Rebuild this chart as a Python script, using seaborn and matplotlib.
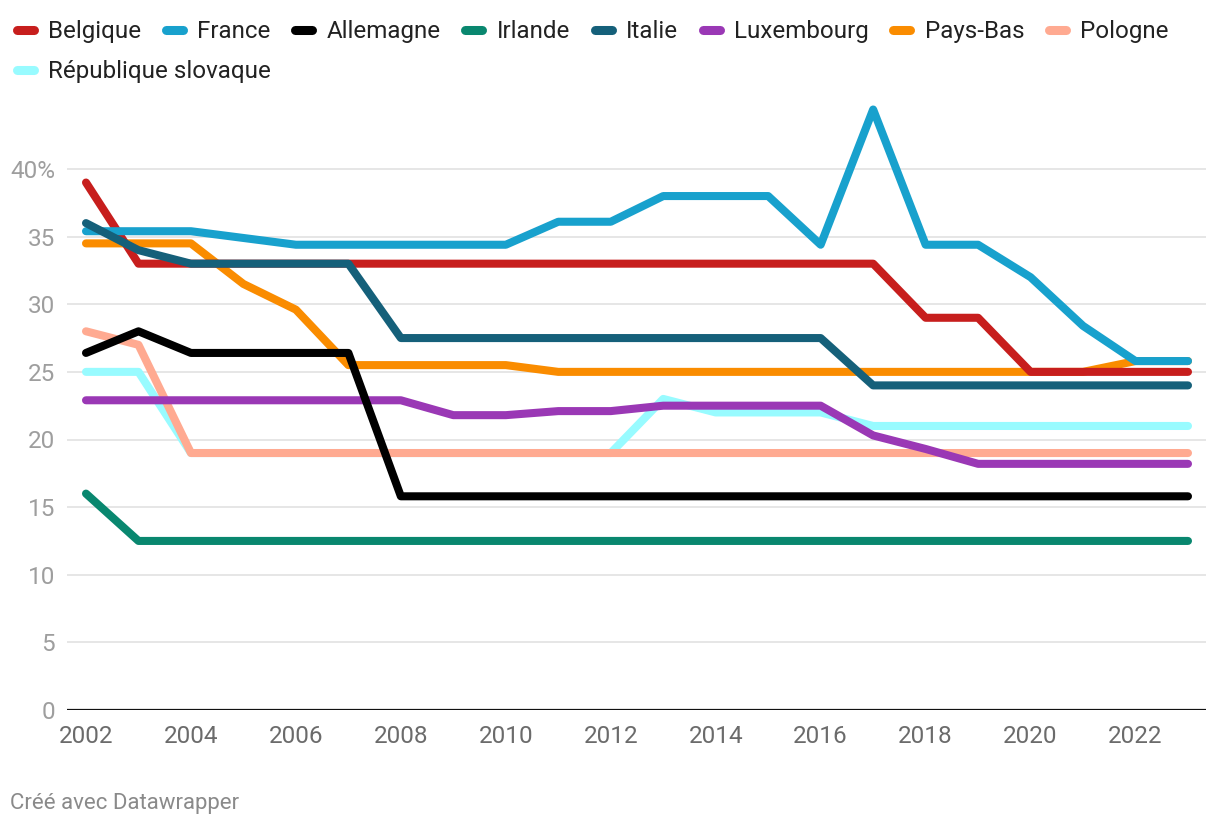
import numpy as np
import pandas as pd
import seaborn as sns
import matplotlib.pyplot as plt
from matplotlib.lines import Line2D

years = list(range(2002, 2024))

belgique = [39.0, 33, 33, 33, 33, 33, 33, 33, 33, 33, 33, 33, 33, 33, 33, 33, 29, 29, 25, 25, 25, 25]
france = [35.4, 35.4, 35.4, 34.9, 34.4, 34.4, 34.4, 34.4, 34.4, 36.1, 36.1, 38.0, 38.0, 38.0, 34.4, 44.4,
          34.4, 34.4, 32.0, 28.4, 25.8, 25.8]
allemagne = [26.4, 28.0, 26.4, 26.4, 26.4, 26.4] + [15.8] * 16
irlande = [16.0] + [12.5] * 21
italie = [36.0, 34.0, 33, 33, 33, 33] + [27.5] * 9 + [24.0] * 7
luxembourg = [22.9] * 7 + [21.8, 21.8, 22.1, 22.1, 22.5, 22.5, 22.5, 22.5, 20.3, 19.3] + [18.2] * 5
pays_bas = [34.5, 34.5, 34.5, 31.5, 29.6, 25.5, 25.5, 25.5, 25.5] + [25.0] * 11 + [25.8, 25.8]
pologne = [28.0, 27.0] + [19.0] * 20
slovaquie = [25.0, 25.0] + [19.0] * 9 + [23.0, 22.0, 22.0, 22.0] + [21.0] * 7

countries = ["Belgique", "France", "Allemagne", "Irlande", "Italie", "Luxembourg",
             "Pays-Bas", "Pologne", "République slovaque"]
series = [belgique, france, allemagne, irlande, italie, luxembourg, pays_bas, pologne, slovaquie]
colors = ["#c71e1d", "#18a1cd", "#000000", "#09876f", "#15607a", "#9a38b5",
          "#fa8c00", "#ffaa91", "#98fbff"]
palette = dict(zip(countries, colors))

# drawing order (last one ends up on top)
draw_order = ["République slovaque", "Pologne", "Pays-Bas", "Luxembourg", "Irlande",
              "Allemagne", "Belgique", "France", "Italie"]

yticks = [0, 5, 10, 15, 20, 25, 30, 35, 40]
ytick_labels = ["0", "5", "10", "15", "20", "25", "30", "35", "40%"]
xticks = list(range(2002, 2023, 2))

df = pd.DataFrame({
    "year": years * len(countries),
    "rate": sum(series, []),
    "country": np.repeat(countries, len(years)),
})

W, H = 1220, 826
plt.rcParams["font.family"] = ["Roboto", "DejaVu Sans"]
fig = plt.figure(figsize=(W / 100, H / 100), dpi=100)
ax = fig.add_axes([67 / W, (H - 710) / H, (1206 - 67) / W, 610 / H])

sns.lineplot(data=df, x="year", y="rate", hue="country", hue_order=draw_order,
             palette=palette, linewidth=5.8, legend=False, ax=ax)
for line in ax.lines:
    line.set_solid_capstyle("round")
    line.set_solid_joinstyle("round")

px_per_year = (1188 - 86) / 21
ax.set_xlim(2002 - 19 / px_per_year, 2002 + (1206 - 86) / px_per_year)
ax.set_ylim(0, 610 / 13.525)

for s in ax.spines.values():
    s.set_visible(False)
ax.yaxis.grid(True, color="#e4e4e4", linewidth=1.3, zorder=0)
ax.xaxis.grid(False)
ax.set_axisbelow(True)
ax.axhline(0, color="#111111", linewidth=1.6, zorder=1)

ax.set_yticks(yticks)
ax.set_yticklabels(ytick_labels)
ax.set_xticks(xticks)
ax.set_xticklabels([str(x) for x in xticks])
ax.tick_params(axis="y", length=0, pad=8.5, labelsize=17.5, labelcolor="#9e9e9e")
ax.tick_params(axis="x", length=0, pad=11, labelsize=17.5, labelcolor="#6b6b6b")
ax.set_xlabel("")
ax.set_ylabel("")

# legend on top, drawn by hand so it wraps like the original
renderer = fig.canvas.get_renderer()
x, yc = 12, 30
for name, color in zip(countries, colors):
    t = fig.text(0, 0, name, fontsize=17.4, color="#222222", va="baseline")
    tw = t.get_window_extent(renderer).width
    if x + 36 + tw > 1210:
        x, yc = 12, yc + 40
    t.set_position(((x + 36) / W, 1 - (yc + 8) / H))
    fig.add_artist(Line2D([(x + 4.5) / W, (x + 21.5) / W], [1 - yc / H, 1 - yc / H],
                          color=color, linewidth=6.5, solid_capstyle="round",
                          transform=fig.transFigure))
    x = x + 36 + tw + 20

fig.text(10 / W, 1 - 803 / H, "Créé avec Datawrapper", fontsize=16, color="#8a8a8a", va="center")

fig.savefig("out.png", dpi=100)
